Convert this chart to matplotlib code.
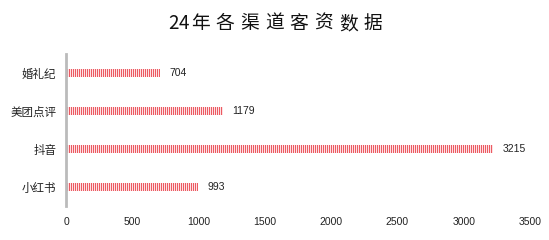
import matplotlib
matplotlib.use("Agg")
import matplotlib.pyplot as plt
import numpy as np
from matplotlib.colors import ListedColormap

plt.rcParams['font.family'] = ['Noto Sans CJK SC', 'DejaVu Sans']

title = '24年各渠道客资数据'
channels = ['婚礼纪', '美团点评', '抖音', '小红书']
leads = [704, 1179, 3215, 993]
xticks = [0, 500, 1000, 1500, 2000, 2500, 3000, 3500]

W, H = 549, 240
fig = plt.figure(figsize=(W / 100, H / 100), dpi=100)
ax = fig.add_axes([66 / W, 34 / H, 464 / W, 152 / H])
ax.set_xlim(0, 3500)
ax.set_ylim(-0.5, 3.5)

ypos = list(range(len(channels)))[::-1]
bars = ax.barh(ypos, leads, height=0.22, color='#f7c3c6', linewidth=0)

# 1px vertical stripes (red / light pink) spanning the axes, clipped to each bar
stripe_cmap = ListedColormap(['#ec5a62', '#fde2e4'])
x_lo, x_hi = ax.get_xlim()
n = int(round(ax.bbox.width))
step = (x_hi - x_lo) / n
q = 0.43 * step  # sub-pixel nudge so sampling never sits on a stripe boundary
for b in bars:
    y0, h = b.get_y(), b.get_height()
    im = ax.imshow((np.arange(n + 2) % 2)[None, :], cmap=stripe_cmap, aspect='auto',
                   interpolation='nearest', resample=False,
                   extent=(x_lo - q - step, x_hi - q + step, y0, y0 + h), zorder=3)
    im.set_clip_path(b)

for y, v in zip(ypos, leads):
    ax.text(v + 75, y, str(v), va='center', ha='left', fontsize=7.5,
            color='#222222', family=['Liberation Sans', 'DejaVu Sans'])

ax.set_xlim(0, 3500)
ax.set_ylim(-0.5, 3.5)
ax.set_yticks(ypos)
ax.set_yticklabels(channels, fontsize=8.3, color='#222222')
ax.set_xticks(xticks)
ax.set_xticklabels([str(t) for t in xticks], fontsize=7.5, color='#222222',
                   family=['Liberation Sans', 'DejaVu Sans'])
ax.tick_params(length=0)
ax.tick_params(axis='y', pad=7)
ax.tick_params(axis='x', pad=8)

for s in ['top', 'right', 'bottom']:
    ax.spines[s].set_visible(False)
ax.spines['left'].set_color('#bbbbbb')
ax.spines['left'].set_linewidth(2)
ax.spines['left'].set_zorder(4)

# title with wide letter spacing, one glyph at a time
x = 168.5
for ch in title:
    w = 11 if ch.isdigit() else 24.6
    fig.text((x + w / 2 - (1 if ch.isdigit() else 2.3)) / W, 1 - 23.5 / H, ch,
             ha='center', va='center', fontsize=13.5, color='#111111')
    x += w

fig.savefig('out.png', dpi=100)
